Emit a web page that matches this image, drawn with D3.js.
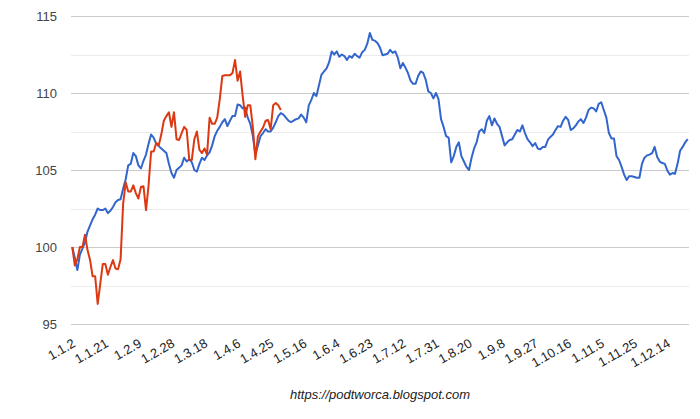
<!DOCTYPE html>
<html>
<head>
<meta charset="utf-8">
<script src="https://cdn.jsdelivr.net/npm/d3@7"></script>
<style>
  html, body { margin: 0; padding: 0; background: #fff; }
  svg { display: block; }
  text { font-family: Arial, "Liberation Sans", sans-serif; }
</style>
</head>
<body>
<svg id="chart" width="700" height="419"></svg>
<script>
// ---- data ----
const tickLabels = ["1.1.2","1.1.21","1.2.9","1.2.28","1.3.18","1.4.6","1.4.25","1.5.16","1.6.4","1.6.23",
  "1.7.12","1.7.31","1.8.20","1.9.8","1.9.27","1.10.16","1.11.5","1.11.25","1.12.14"];
const tickEvery = 13;
const yTicks = [95, 100, 105, 110, 115];

const blueSeries = [
  100.0, 99.3, 98.5, 99.5, 99.9, 100.3, 101.0, 101.4, 101.8, 102.1,
  102.5, 102.4, 102.4, 102.5, 102.2, 102.35, 102.6, 102.9, 103.05, 103.1,
  103.8, 104.4, 105.3, 105.4, 106.1, 105.9, 105.3, 105.1, 105.6, 106.0,
  106.7, 107.3, 107.1, 106.7, 106.55, 106.4, 106.25, 106.1, 105.4, 104.8,
  104.5, 105.0, 105.15, 105.3, 105.8, 105.55, 105.7, 105.5, 105.0, 104.9,
  105.4, 105.8, 105.65, 105.95, 106.15, 106.6, 107.2, 107.55, 107.8, 108.1,
  108.3, 107.85, 108.2, 108.5, 108.5, 109.25, 109.2, 109.0, 109.05, 108.4,
  108.0, 107.2, 106.0, 106.6, 107.2, 107.4, 107.65, 107.5, 107.5, 107.75,
  108.1, 108.5, 108.7, 108.6, 108.4, 108.2, 108.1, 108.2, 108.3, 108.35,
  108.6, 108.4, 108.1, 109.2, 109.55, 110.0, 109.8, 110.5, 111.2, 111.4,
  111.6, 112.0, 112.7, 112.5, 112.7, 112.35, 112.5, 112.4, 112.15, 112.4,
  112.3, 112.55, 112.4, 112.3, 112.65, 112.8, 113.2, 113.9, 113.45, 113.4,
  113.25, 112.95, 112.45, 112.5, 112.55, 112.8, 112.6, 112.7, 112.3, 111.6,
  111.95, 111.65, 111.3, 110.8, 110.6, 110.6, 111.1, 111.4, 111.3, 110.85,
  110.1, 110.0, 109.65, 110.0, 109.6, 108.3, 107.8, 107.2, 107.1, 105.5,
  105.9, 106.5, 106.8, 105.9, 105.55, 105.2, 105.0, 105.8, 106.4, 106.8,
  107.5, 107.65, 107.4, 108.2, 108.5, 107.9, 108.35, 108.0, 107.8, 107.2,
  106.6, 106.8, 106.95, 107.0, 107.3, 107.6, 107.5, 107.9, 107.4, 107.0,
  106.8, 106.55, 106.75, 106.4, 106.35, 106.5, 106.5, 106.95, 107.15, 107.3,
  107.6, 107.85, 107.8, 108.2, 108.45, 108.25, 107.6, 107.7, 107.9, 108.15,
  108.3, 108.05, 108.4, 108.9, 109.05, 109.0, 108.8, 109.3, 109.4, 108.9,
  108.4, 107.4, 107.05, 107.05, 105.9, 105.65, 105.2, 104.7, 104.35, 104.6,
  104.6, 104.55, 104.5, 104.5, 105.4, 105.8, 105.95, 106.0, 106.1, 106.5,
  105.85, 105.55, 105.45, 105.4, 104.95, 104.7, 104.8, 104.75, 105.4, 106.25,
  106.5, 106.8, 107.0
];

const redSeries = [
  100.0, 98.8, 99.2, 100.0, 100.0, 100.8, 99.8, 99.15, 98.1, 98.1,
  96.3, 97.6, 98.9, 98.9, 98.2, 98.7, 99.15, 98.6, 98.55, 99.2,
  102.8, 104.2, 103.6, 103.6, 104.0, 103.5, 103.15, 103.9, 103.95, 102.4,
  104.0, 106.2, 106.2, 106.75, 106.6, 107.3, 108.2, 108.5, 108.75, 107.8,
  108.75, 107.0, 106.95, 107.4, 107.8, 107.6, 105.65, 105.65, 107.0, 107.5,
  106.3, 106.1, 106.4, 106.0, 108.4, 108.0, 108.0, 108.4, 109.6, 111.1,
  111.15, 111.15, 111.15, 111.3, 112.15, 110.8, 111.4, 109.8, 108.45, 109.2,
  109.2, 107.8, 105.7, 107.2, 107.5, 107.75, 108.2, 108.25, 107.65, 109.2,
  109.35, 109.2, 108.9
];

const footerText = "https://podtworca.blogspot.com";

// ---- chart ----
const svg = d3.select("#chart");
const plotL = 71, plotR = 689, plotT = 16, plotB = 324;

const x = d3.scaleBand()
  .domain(d3.range(blueSeries.length))
  .range([plotL, plotR])
  .padding(0);
const xc = i => x(i) + x.bandwidth() / 2;

const y = d3.scaleLinear().domain([95, 115]).range([plotB, plotT]);

// minor gridlines
const minor = d3.range(97.5, 115, 5);
svg.append("g").selectAll("line").data(minor).join("line")
  .attr("x1", plotL).attr("x2", plotR)
  .attr("y1", d => Math.round(y(d)) + 0.5).attr("y2", d => Math.round(y(d)) + 0.5)
  .attr("stroke", "#ebebeb").attr("stroke-width", 1);

// major gridlines + y labels via axis
const yAxis = d3.axisLeft(y).tickValues(yTicks).tickSize(-(plotR - plotL)).tickPadding(14).tickFormat(d3.format("d"));
const gy = svg.append("g").attr("transform", `translate(${plotL},0)`).call(yAxis);
gy.select(".domain").remove();
gy.selectAll(".tick line").attr("stroke", "#cccccc").attr("stroke-width", 1);
gy.selectAll(".tick text").attr("fill", "#444").style("font-size", "13px")
  .attr("font-family", "Arial, 'Liberation Sans', sans-serif");

// x axis labels (rotated)
const tickIdx = tickLabels.map((_, k) => k * tickEvery);
const xAxis = d3.axisBottom(x).tickValues(tickIdx)
  .tickFormat((d) => tickLabels[d / tickEvery]).tickSize(0).tickPadding(0);
const gx = svg.append("g").attr("transform", `translate(0,${plotB})`).call(xAxis);
gx.select(".domain").remove();
gx.selectAll(".tick text")
  .attr("fill", "#222").style("font-size", "13px")
  .attr("font-family", "Arial, 'Liberation Sans', sans-serif")
  .attr("text-anchor", "end")
  .attr("dy", null).attr("y", null)
  .attr("transform", "translate(4,22) rotate(-30)");

// lines
const line = d3.line().x((d, i) => xc(i)).y(d => y(d));
svg.append("path").datum(blueSeries)
  .attr("fill", "none").attr("stroke", "#3366cc").attr("stroke-width", 2)
  .attr("stroke-linejoin", "round").attr("d", line);
svg.append("path").datum(redSeries)
  .attr("fill", "none").attr("stroke", "#dc3912").attr("stroke-width", 2)
  .attr("stroke-linejoin", "round").attr("d", line);

// footer
svg.append("text").attr("x", (plotL + plotR) / 2).attr("y", 399)
  .attr("text-anchor", "middle").attr("fill", "#222")
  .style("font-size", "13px").style("font-style", "italic")
  .text(footerText);
</script>
</body>
</html>
